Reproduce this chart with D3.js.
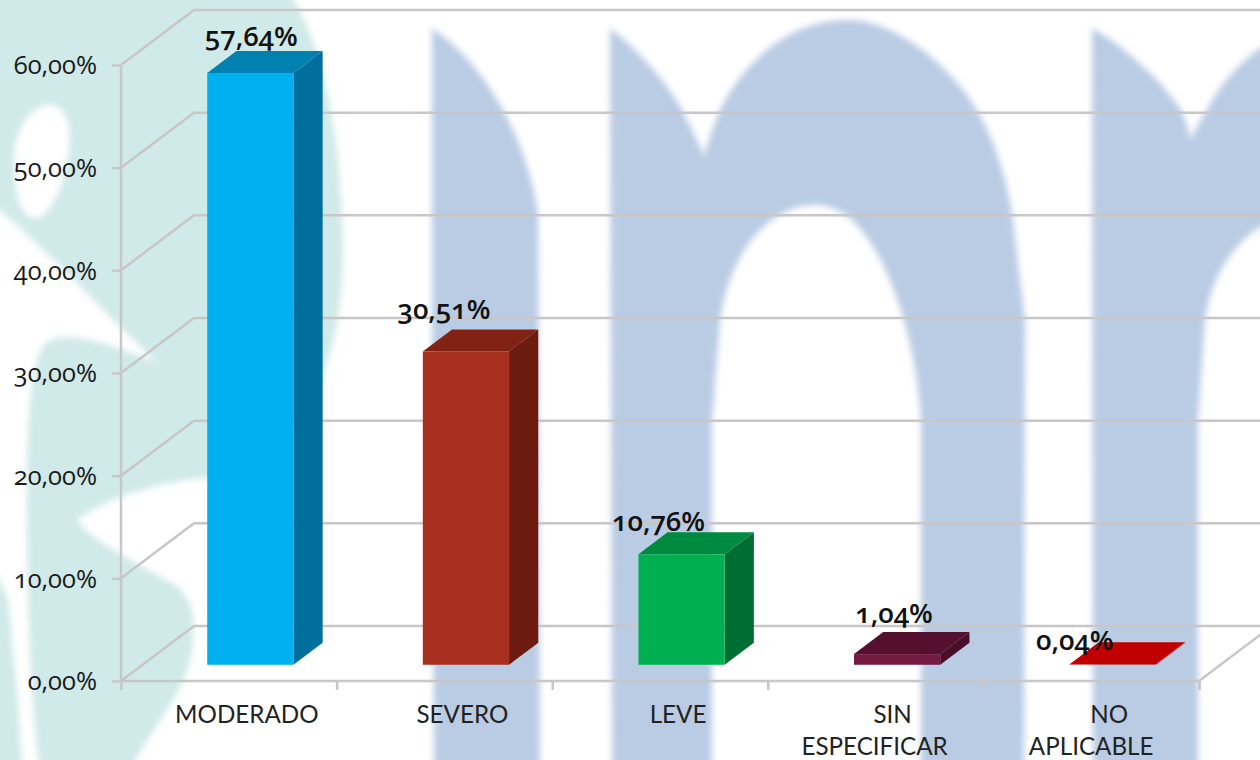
<!DOCTYPE html>
<html lang="es">
<head>
<meta charset="utf-8">
<script src="https://d3js.org/d3.v7.min.js"></script>
<style>
html,body{margin:0;padding:0;background:#fff;overflow:hidden}
svg{display:block}
text{font-family:"Open Sans","Noto Sans",Lato,sans-serif;font-variant-numeric:oldstyle-nums;font-feature-settings:"onum" 1;fill:#1a1a1a}
.tick-label{font-size:25.5px}
.cat-label{font-family:Lato,"Open Sans",sans-serif;font-size:24.2px;fill:#222}
.val-label{font-size:27.5px;font-weight:600;fill:#111}
</style>
</head>
<body>
<svg id="chart" width="1260" height="760"></svg>
<script>
// Data
const categories = ["MODERADO", "SEVERO", "LEVE", "SIN ESPECIFICAR", "NO APLICABLE"];
const values = [57.64, 30.51, 10.76, 1.04, 0.04];
const axisTicks = [0, 10, 20, 30, 40, 50, 60];

// Style and layout
const frontColors = ["#00b0f0", "#a83021", "#00b050", "#761a42", "#c00000"];
const topColors = ["#0081b0", "#822214", "#008a3f", "#56102f", "#c00000"];
const sideColors = ["#006f9e", "#6c1b10", "#006e32", "#4a0e29", "#c00000"];
const labelShift = [[1, -27], [-22, -33], [-23, -23], [-3, -31], [-38, -14]];
const catLineShift = [[-4], [-4], [-4], [-5, -23], [-4, -22]];
const catLines = [["MODERADO"], ["SEVERO"], ["LEVE"], ["SIN", "ESPECIFICAR"], ["NO", "APLICABLE"]];

const depth = {x: 73, y: -55}, zFront = 0.295, zBack = 0.695;
const svg = d3.select("#chart");
const y = d3.scaleLinear().domain([0, 60]).range([681, 65]);
const x = d3.scaleBand().domain(categories).range([121, 1199]).paddingInner(0).paddingOuter(0);
const barW = x.bandwidth() * 0.4;
const pct = v => d3.format(".2f")(v).replace(".", ",") + "%";

// Watermark background
const defs = svg.append("defs");
defs.append("filter").attr("id", "soft").attr("x", "-5%").attr("y", "-5%").attr("width", "110%").attr("height", "110%")
  .append("feGaussianBlur").attr("stdDeviation", 3.2);
const bg = svg.append("g").attr("filter", "url(#soft)");
const tealShapes = [
  "M-10,-10 L288,-10 C320,40 340,120 343,240 C344,320 330,370 300,420 C270,460 240,475 208,478 C170,480 110,495 77,520 C90,540 140,565 175,585 C195,600 197,625 190,660 C180,700 150,730 130,770 L40,770 C30,700 27,600 27,500 C27,420 30,350 50,340 C80,330 120,350 157,362 C110,320 50,250 -10,203 Z",
  "M-10,560 L8,600 C14,660 20,720 22,770 L-10,770 Z"
];
const holeShape = "M14,160 C14,125 35,103 52,105 C68,108 72,130 68,155 C62,190 50,217 35,218 C20,218 14,190 14,160 Z";
const blueShapes = [
  "M432,28 C480,60 525,130 538,213 L540,770 L434,770 L432,420 Z",
  "M610,28 C645,55 675,95 682,110 C692,130 700,145 704,157 C708,140 714,125 720,110 C745,60 790,20 848,20 C895,20 950,65 977,110 C1000,150 1008,190 1012,213 L1025,320 L1024,770 L921,770 L921,420 C917,340 880,205 816,205 C770,205 730,250 720,320 L712,420 L712,770 L612,770 Z",
  "M1092,28 C1130,50 1165,85 1181,110 C1185,120 1189,130 1191,140 C1195,130 1200,120 1207,110 C1220,85 1240,60 1270,42 L1270,222 C1240,235 1212,270 1205,320 L1198,420 L1198,770 L1093,770 Z"
];
bg.selectAll("path.teal").data(tealShapes).join("path").attr("class", "teal").attr("d", d => d).attr("fill", "#d0e9e9");
bg.append("path").attr("d", holeShape).attr("fill", "#ffffff");
bg.selectAll("path.blue").data(blueShapes).join("path").attr("class", "blue").attr("d", d => d).attr("fill", "#b9cce4");

// Grid
const gridColor = "#c8c6c6";
const grid = svg.append("g").attr("fill", "none").attr("stroke", gridColor).attr("stroke-width", 2.5);
grid.selectAll("path.wall").data(axisTicks).join("path").attr("class", "wall")
  .attr("d", v => `M${x.range()[0]},${y(v)}L${x.range()[0] + depth.x},${y(v) + depth.y}L1262,${y(v) + depth.y}`);
grid.append("path").attr("d", `M${x.range()[1]},${y(0)}l${depth.x},${depth.y}`);

// Axes
const yAxis = svg.append("g").attr("transform", `translate(${x.range()[0]},0)`)
  .call(d3.axisLeft(y).tickValues(axisTicks).tickSize(9).tickPadding(15).tickFormat(pct));
yAxis.selectAll("path,line").attr("stroke", gridColor).attr("stroke-width", 2.5);
yAxis.select(".domain").attr("d", `M0,${y(60)}V${y(0)}`);
yAxis.selectAll("text").attr("class", "tick-label").attr("dy", "0.34em").attr("fill", null).style("font-family", null);
yAxis.attr("font-family", null).attr("font-size", null);

const xEdges = d3.scaleLinear().domain([0, categories.length]).range(x.range());
const xAxis = svg.append("g").attr("transform", `translate(0,${y(0)})`)
  .call(d3.axisBottom(xEdges).tickValues(d3.range(categories.length + 1)).tickSize(9).tickFormat(""));
xAxis.selectAll("path,line").attr("stroke", gridColor).attr("stroke-width", 2.5);
xAxis.select(".domain").attr("d", `M${x.range()[0]},0H${x.range()[1]}`);

// Category labels
const cats = svg.append("g").selectAll("text").data(categories).join("text")
  .attr("class", "cat-label").attr("text-anchor", "middle").attr("y", 723);
cats.each(function(c, i) {
  d3.select(this).selectAll("tspan").data(catLines[i]).join("tspan")
    .attr("x", (d, j) => x(c) + x.bandwidth() / 2 + catLineShift[i][j] + 22)
    .attr("y", (d, j) => 723 + j * 31.5)
    .text(d => d);
});

// 3D bars
const base = y(0) + depth.y * zFront;
const scaleH = d3.scaleLinear().domain([0, 60]).range([0, y(0) - y(60)]);
const bars = svg.append("g").selectAll("g").data(categories).join("g");
const left = c => x(c) + (x.bandwidth() - barW) / 2 - depth.x * -zFront;
const dx = depth.x * (zBack - zFront), dy = depth.y * (zBack - zFront);
bars.append("path").attr("fill", (c, i) => sideColors[i])
  .attr("d", (c, i) => { const X = left(c) + barW, T = base - scaleH(values[i]); return `M${X},${base}L${X + dx},${base + dy}L${X + dx},${T + dy}L${X},${T}Z`; });
bars.append("path").attr("fill", (c, i) => topColors[i])
  .attr("d", (c, i) => { const X = left(c), T = base - scaleH(values[i]); return `M${X},${T}L${X + barW},${T}L${X + barW + dx},${T + dy}L${X + dx},${T + dy}Z`; });
bars.append("rect").attr("fill", (c, i) => frontColors[i])
  .attr("x", c => left(c)).attr("width", barW)
  .attr("y", (c, i) => base - scaleH(values[i])).attr("height", (c, i) => scaleH(values[i]));

// Value labels
svg.append("g").selectAll("text").data(categories).join("text")
  .attr("class", "val-label").attr("text-anchor", "middle")
  .attr("x", (c, i) => left(c) + barW / 2 + labelShift[i][0])
  .attr("y", (c, i) => base - scaleH(values[i]) + labelShift[i][1])
  .text((c, i) => pct(values[i]));
</script>
</body>
</html>
